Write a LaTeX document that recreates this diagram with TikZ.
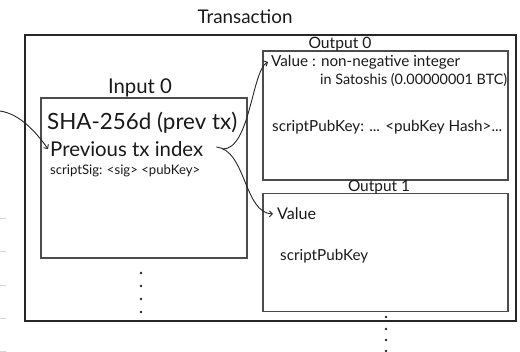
\documentclass[tikz,border=0pt]{standalone}
\usepackage{fontspec}
\setmainfont{Lato}
\usetikzlibrary{arrows.meta}
% scale a text to a given width
\newcommand{\fitto}[2]{\resizebox{#1}{!}{#2}}

\begin{document}
\begin{tikzpicture}[x=1pt,y=-1pt,
  frame/.style={draw=black!85, line width=1.2pt, inner sep=0},
  part/.style={draw=black!70, line width=1.5pt, inner sep=0},
  lbl/.style={inner sep=0, text=black!90},
  link/.style={draw=black!85, line width=0.9pt, -{Straight Barb[length=3pt,width=6pt]}},
  dotmark/.style={fill=black!85, circle, inner sep=0, minimum size=2.6pt},
  ruling/.style={draw=blue!15!gray!30, line width=0.8pt}]
\useasboundingbox (0,0) rectangle (520,352);

% faint paper rulings at the left edge
\foreach \yy in {218,251,285,318,351}
  \draw[ruling] (0,\yy) -- (6,\yy);

% title and boxes
\node[lbl] (title) at (245,17) {\fitto{95pt}{Transaction}};
\node[frame, minimum width=491pt, minimum height=286pt] (tx) at (270.5,178) {};
\node[part, minimum width=206pt, minimum height=160pt] (in0) at (144,178) {};
\node[part, minimum width=245pt, minimum height=129pt] (out0) at (385.5,115.5) {};
\node[part, minimum width=245pt, minimum height=118pt] (out1) at (385.5,252.5) {};

\node[lbl] (in0t) at (140,88) {\fitto{64pt}{Input 0}};
\node[lbl] (out0t) at (340,44) {\fitto{63pt}{Output 0}};
\node[lbl] (out1t) at (379,187) {\fitto{62pt}{Output 1}};

% input fields
\node[lbl, anchor=west] (sha) at (47,123) {\fitto{190pt}{SHA-256d (prev tx)}};
\node[lbl, anchor=west] (prev) at (50,149) {\fitto{153pt}{Previous tx index}};
\node[lbl, anchor=west] (sig) at (50,171) {\fitto{150pt}{scriptSig: <sig> <pubKey>}};

% output 0 fields
\node[lbl, anchor=west] (val0) at (271,62) {\fitto{189pt}{Value : non-negative integer}};
\node[lbl, anchor=west] (sat) at (320,80) {\fitto{187pt}{in Satoshis (0.00000001 BTC)}};
\node[lbl, anchor=west] (pk0) at (272,127) {\fitto{230pt}{scriptPubKey: ... <pubKey Hash>...}};

% output 1 fields
\node[lbl, anchor=west] (val1) at (277,214) {\fitto{39pt}{Value}};
\node[lbl, anchor=west] (pk1) at (280,256) {\fitto{88pt}{scriptPubKey}};

% more inputs / outputs
\foreach \yy [count=\i] in {273,286,299,312}
  \node[dotmark] (din\i) at (141,\yy) {};
\foreach \yy [count=\i] in {317,329,340,351}
  \node[dotmark] (dout\i) at (386,\yy) {};

% references
\coordinate (src) at (0,111);
\draw[link] (src) .. controls (20,114) and (36,132) .. ([xshift=-2pt]prev.west);
\draw[link] ([xshift=19pt]prev.east) .. controls (250,150) and (252,70) .. ([xshift=-3pt]val0.west);
\draw[link] ([xshift=13pt,yshift=2pt]prev.east) .. controls (246,150) and (244,213) .. ([xshift=-4pt]val1.west);
\end{tikzpicture}
\end{document}
